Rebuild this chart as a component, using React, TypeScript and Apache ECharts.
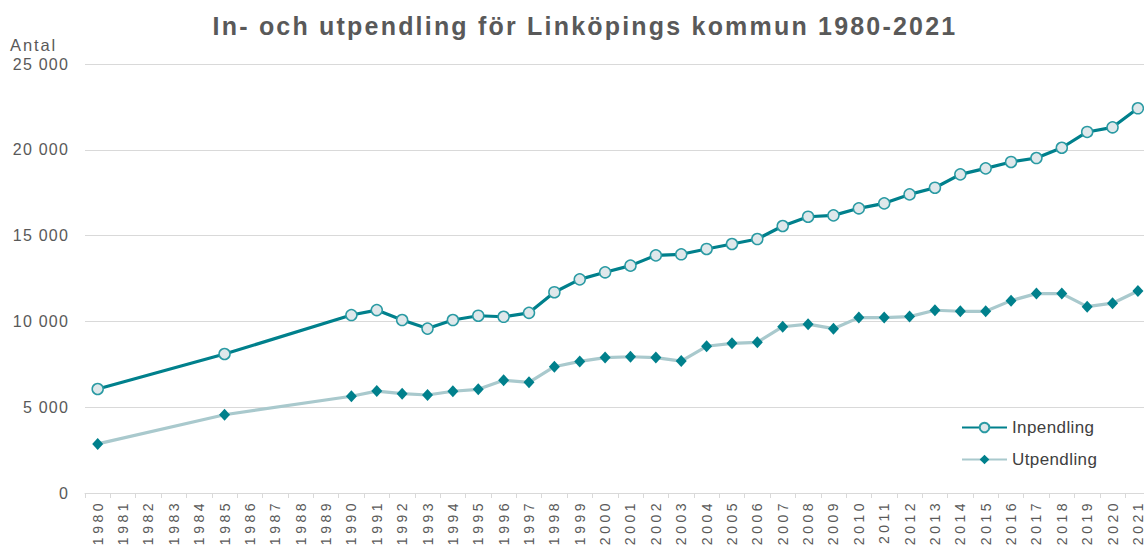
import React, { useEffect, useRef } from "react";
import * as echarts from "echarts";

const years: string[] = [];
for (let y = 1980; y <= 2021; y++) years.push(String(y));

const inpendling: (number | null)[] = [
  6060, null, null, null, null, 8100, null, null, null, null,
  10370, 10660, 10080, 9580, 10080, 10330, 10270, 10500, 11700, 12450,
  12860, 13250, 13850, 13910, 14220, 14510, 14800, 15560, 16100, 16180,
  16590, 16880, 17400, 17790, 18570, 18920, 19290, 19520, 20120, 21040,
  21310, 22420,
];

const utpendling: (number | null)[] = [
  2860, null, null, null, null, 4560, null, null, null, null,
  5640, 5940, 5790, 5710, 5930, 6040, 6570, 6450, 7360, 7670,
  7890, 7940, 7890, 7690, 8550, 8720, 8780, 9690, 9840, 9575,
  10220, 10220, 10280, 10650, 10590, 10590, 11210, 11620, 11620, 10860,
  11060, 11770,
];

const titleText = "In- och utpendling för Linköpings kommun 1980-2021";
const yAxisName = "Antal";

const css = `
.chart-box svg text[style*="25px"] { letter-spacing: 2.2px; }
.chart-box svg text[style*="16px"] { letter-spacing: 1.2px; }
.chart-box svg text[style*="14px"] { letter-spacing: 3.5px; }
.chart-box svg text[style*="17px"] { letter-spacing: 0.4px; }
.chart-box svg text[style*="16.5px"] { letter-spacing: 1.9px; }
`;

export default function App() {
  const ref = useRef<HTMLDivElement>(null);
  useEffect(() => {
    if (!ref.current) return;
    const chart = echarts.init(ref.current, null, { renderer: "svg" });
    const font = "'Liberation Sans', Arial, sans-serif";
    chart.setOption({
      animation: false,
      textStyle: { fontFamily: font },
      title: {
        text: titleText,
        left: 580,
        textAlign: "center",
        top: 8,
        textStyle: { fontSize: 25, fontWeight: "bold", color: "#595959", fontFamily: font },
      },
      graphic: [
        {
          type: "text",
          left: 10,
          top: 36,
          style: { text: yAxisName, fontSize: 16.5, fill: "#595959", fontFamily: font },
        },
      ],
      legend: {
        orient: "vertical",
        left: 956,
        top: 414,
        itemWidth: 45,
        itemHeight: 12,
        itemGap: 15,
        textStyle: { fontSize: 17, color: "#404040", fontFamily: font },
        data: ["Inpendling", "Utpendling"],
      },
      grid: {
        left: 85,
        right: -6.6,
        top: 64,
        bottom: 52,
        containLabel: false,
        outerBoundsMode: "none",
      },
      xAxis: {
        type: "category",
        data: years,
        boundaryGap: true,
        axisLine: { lineStyle: { color: "#d9d9d9" } },
        axisTick: { show: true, length: 5, lineStyle: { color: "#d9d9d9" } },
        axisLabel: {
          rotate: 90,
          interval: 0,
          fontSize: 14,
          color: "#595959",
          margin: 7,
          fontFamily: font,
        },
      },
      yAxis: {
        type: "value",
        min: 0,
        max: 25000,
        interval: 5000,
        axisLine: { show: false },
        axisTick: { show: false },
        splitLine: { lineStyle: { color: "#d9d9d9" } },
        axisLabel: {
          fontSize: 16,
          color: "#595959",
          margin: 16,
          fontFamily: font,
          formatter: (v: number) =>
            String(v).replace(/\B(?=(\d{3})+(?!\d))/g, " "),
        },
      },
      series: [
        {
          name: "Inpendling",
          type: "line",
          data: inpendling,
          connectNulls: true,
          symbol: "circle",
          symbolSize: 11,
          showAllSymbol: true,
          lineStyle: { color: "#00808c", width: 3.2 },
          itemStyle: { color: "#dfe8eb", borderColor: "#2a9aa3", borderWidth: 1.5 },
          z: 3,
        },
        {
          name: "Utpendling",
          type: "line",
          data: utpendling,
          connectNulls: true,
          symbol: "diamond",
          symbolSize: [11, 12],
          showAllSymbol: true,
          lineStyle: { color: "#a9c9cd", width: 3.2 },
          itemStyle: { color: "#00808c", borderWidth: 0 },
          z: 2,
        },
      ],
    });
    return () => chart.dispose();
  }, []);
  return (
    <>
      <style>{css}</style>
      <div
        className="chart-box"
        ref={ref}
        style={{ width: 1144, height: 545, position: "absolute", left: 0, top: 0, overflow: "hidden" }}
      />
    </>
  );
}
